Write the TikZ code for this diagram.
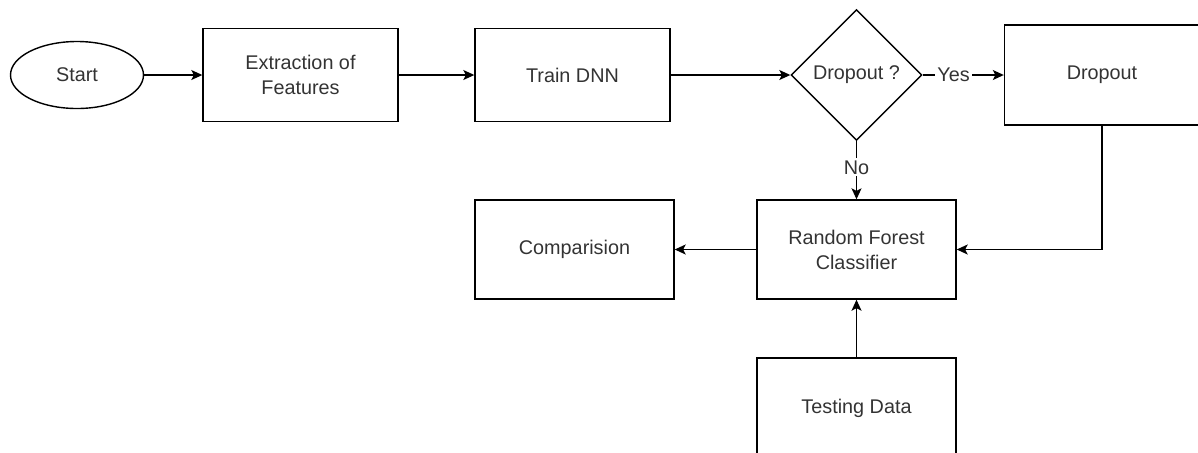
\documentclass[tikz,border=0pt]{standalone}
\usepackage{fontspec}
\setmainfont{Liberation Sans}
\usetikzlibrary{shapes.geometric,arrows.meta}

\begin{document}
\begin{tikzpicture}[x=0.5pt,y=-0.5pt,
    font=\fontsize{9.9}{12.5}\selectfont,
    box/.style={draw,line width=0.7pt,align=center,text=black!80,
        minimum width=99.5pt,minimum height=49.5pt,inner sep=0pt},
    term/.style={draw,ellipse,line width=0.7pt,text=black!80,
        minimum width=66.5pt,minimum height=33.5pt,inner sep=0pt},
    decide/.style={draw,diamond,line width=0.7pt,text=black!80,
        minimum width=65.5pt,minimum height=65.5pt,inner sep=0pt},
    arr/.style={line width=0.7pt,-{Stealth[length=5.5pt,width=5pt,inset=1.3pt]}},
    lab/.style={fill=white,inner sep=1pt,text=black!80}]
    \useasboundingbox (0,0) rectangle (1198,452);
    % top row
    \node[term] (start) at (77,75) {Start};
    \node[box,minimum width=97.5pt,minimum height=46.5pt] (extract) at (300.5,75) {Extraction of\\Features};
    \node[box,minimum width=97.5pt,minimum height=46.5pt] (train) at (572.5,75) {Train DNN};
    \node[decide] (ask) at (856.5,75) {Dropout ?};
    \node[box,minimum width=97.5pt,minimum height=50pt] (dropout) at (1102,75) {Dropout};
    % lower part
    \node[box] (forest) at (856.5,249.5) {Random Forest\\Classifier};
    \node[box] (compare) at (574.5,249.5) {Comparision};
    \node[box,minimum height=50pt] (testing) at (856.5,408) {Testing Data};
    % arrows
    \foreach \a/\b in {start/extract,extract/train,train/ask,forest/compare,testing/forest}
        \draw[arr] (\a) -- (\b);
    \draw[arr] (ask) -- node[lab,pos=0.38] {Yes} (dropout);
    \draw[arr] (ask) -- node[lab,pos=0.45] {No} (forest);
    \draw[arr] (dropout.south) |- (forest.east);
\end{tikzpicture}
\end{document}
